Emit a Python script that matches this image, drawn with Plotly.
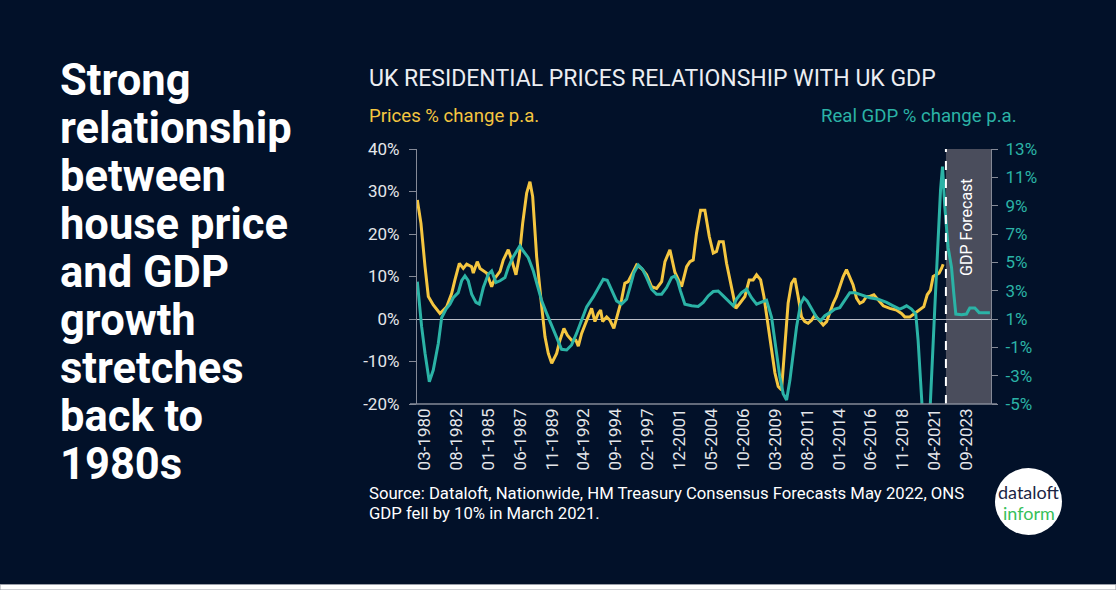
import plotly.graph_objects as go

# ---------------- data ----------------
tick_labels = ["03-1980", "08-1982", "01-1985", "06-1987", "11-1989", "04-1992",
               "09-1994", "02-1997", "12-2001", "05-2004", "10-2006", "03-2009",
               "08-2011", "01-2014", "06-2016", "11-2018", "04-2021", "09-2023"]

# period index along the category axis (29 periods between labels)
price_t = [0.3, 3.6, 7.3, 10.3, 14.8, 20.9, 27, 31.5, 34.5, 38.5, 42.1, 45.2, 49.7, 51.2,
           54.8, 57.3, 63.4, 67.9, 70.9, 75.5, 78.5, 83, 86.1, 90, 93, 96.1, 99.7, 102.7,
           105.2, 108.8, 113.4, 116.4, 119.4, 122.5, 127, 130, 133.6, 136.7, 140.6, 144.5,
           146.7, 149.7, 152.7, 156.7, 158.8, 161.8, 164.8, 167, 168.8, 172.5, 175.5, 179,
           183, 186, 189, 192, 196, 199.7, 204.2, 208.8, 213.3, 217.9, 222.5, 225.5, 230,
           234.5, 240.6, 245.2, 248.2, 251.2, 254.2, 257.9, 261.8, 265.8, 269.4, 272.4,
           274.8, 278.5, 281.5, 286.1, 290, 293.6, 298.2, 302.1, 305.7, 308.8, 312.5, 315.5,
           318.5, 321.5, 325.5, 328.5, 331.5, 334.5, 337.5, 340.6, 343.6, 346.6, 349.7,
           352.7, 355.7, 358.8, 361.8, 365.8, 369.4, 372.5, 375.5, 378.5, 381.5, 384.5,
           387.6, 390.6, 393.6, 396.6, 399.7, 402.7, 405.7, 408.8, 411.8, 415.5, 419.4,
           424, 430, 436, 440.6, 443.6, 448.2, 452.7, 457.3, 460.9, 464, 467, 469.4, 472.5,
           474.8, 477, 478.5]
price_v = [28.0, 22.5, 12.3, 5.3, 3.3, 1.3, 2.9, 6.0, 9.2, 13.1, 11.9, 12.9, 12.3, 10.8,
           13.5, 11.9, 10.8, 7.6, 9.6, 11.2, 13.9, 16.3, 13.9, 10.4, 14.7, 22.5, 29.6, 32.3,
           28.8, 14.7, 2.9, -4.2, -8.1, -10.4, -8.1, -5.0, -2.2, -3.8, -5.0, -5.0,
           -6.4, -3.4, -1.4, 0.9, 2.5, -0.6, 1.3, 2.1, -0.6, 0.5, -0.3, -2.2,
           1.3, 4.5, 8.4, 8.8, 10.8, 12.7, 11.9, 10.4, 7.6, 7.2, 8.8, 13.5, 16.3,
           11.0, 7.6, 12.3, 13.5, 13.9, 20.2, 25.6, 25.6, 19.4, 15.5, 15.9,
           18.2, 18.2, 13.1, 7.6, 2.5, 3.7, 5.3, 9.2, 9.2, 10.4, 9.2, 5.3,
           -0.3, -6.5, -12.7, -15.9, -16.7, -6.5, 3.7, 8.4, 9.6, 5.3, 0.5,
           -0.6, -1.0, -0.3, 0.9, -0.3, -1.4, -0.6, 1.7, 3.7, 5.3, 7.6,
           10.0, 11.6, 10.0, 8.0, 4.9, 3.7, 4.1, 5.3, 5.3, 5.7, 4.5,
           3.1, 2.5, 2.1, 1.3, 0.5, 0.5, 1.3, 2.1, 2.9, 5.7, 6.8, 10.0, 10.4,
           10.8, 11.9, 12.9]

gdp_t = [0.3, 4.2, 7.3, 11.2, 14.8, 19.4, 22.4, 26.4, 30, 33, 37.5, 40.6, 43.6, 46.6, 49.7,
         53.6, 56.6, 60.3, 64.8, 67.9, 71.8, 75.5, 80, 83, 87, 90.6, 93.6, 96.6, 101.2,
         105.8, 110.3, 113.4, 117.9, 122.5, 127, 131.5, 136.1, 140.6, 145.2, 149.7, 154.3,
         160.3, 164.8, 169.4, 173, 177, 181.5, 186, 190.6, 193.6, 197.3, 201.2, 205.2,
         208.8, 213.3, 217.9, 222.5, 227, 231.5, 234.5, 237, 239.5, 243.6, 249.7, 255.7,
         260.3, 264.8, 269.4, 273.9, 278.5, 283, 287.6, 290.6, 295.2, 299.7, 304.2, 308.8,
         313.3, 317.9, 322.5, 326.4, 330, 333, 336.1, 339.1, 342.1, 345.2, 348.8, 351.8,
         354.8, 358.8, 363.4, 367, 370.9, 375.5, 380, 384.5, 389, 393.6, 398.2, 404.2,
         411.8, 419.4, 427, 433, 439, 442.1, 445.2, 449.7, 453.6, 455.7, 457.3, 463.5,
         470.9, 474, 476.1, 477.9, 480, 483, 486.1, 488.2, 490, 495.2, 499.7, 502.7,
         507.3, 511.2, 521]
gdp_v = [3.63, 0.46, -1.42, -3.43, -2.60, -0.71, 1.09, 1.7, 2.05, 2.5, 2.86, 3.7, 4.04, 3.7,
         2.75, 2.17, 2.05, 3.22, 4.16, 4.39, 3.57, 3.7, 3.92, 4.63, 5.33, 5.8, 6.16, 5.8,
         5.33, 4.39, 3.22, 2.28, 1.4, 0.58, -0.25, -1.14, -1.19, -0.83, 0.0, 0.93, 1.86,
         2.56, 3.22, 3.81, 3.74, 3.0, 2.28, 2.05, 2.4, 3.22, 4.27, 4.81, 4.51,
         3.92, 3.1, 2.75, 2.75, 3.22, 3.92, 4.04, 3.7, 3.0, 2.05, 1.93, 1.88,
         2.17, 2.63, 2.94, 2.98, 2.63, 2.28, 1.93, 2.4, 2.86, 3.1, 2.5, 2.05,
         2.17, 2.33, 1.1, -1.0, -3.1, -4.27, -4.72, -3.33, -1.42, 0.46, 2.05, 2.5,
         2.28, 1.7, 1.1, 0.88, 1.23, 1.45, 1.7, 1.8, 2.28, 2.86, 2.86, 2.7,
         2.5, 2.4, 2.17, 1.93, 1.7, 1.8, 1.93, 1.7, 1.35, -0.5, -2.88, -10.5,
         1.8, 6.5, 10.1, 11.75, 8.9, 6.05, 4.64, 2.77, 1.35, 1.3, 1.35, 1.77,
         1.77, 1.45, 1.45]

forecast_start = 481      # period index where the GDP forecast begins
x_end = 522               # last period shown on the axis

left_ticks = [-20, -10, 0, 10, 20, 30, 40]
right_ticks = [-5, -3, -1, 1, 3, 5, 7, 9, 11, 13]

headline = ["Strong", "relationship", "between", "house price", "and GDP",
            "growth", "stretches", "back to", "1980s"]

# ---------------- styling ----------------
W, H = 1116, 590
L, R, T, B = 417, 991, 149, 404  # plot area in page pixels
BG = "#021129"
YELLOW = "#f5c640"
TEAL = "#2bb3a6"
AXIS = "#858a97"
FONT = "Roboto"


def px(x):
    return (x - L) / (R - L)


def py(y):
    return (B - y) / (B - T)


tick_pos = [6.8 + 29 * k for k in range(len(tick_labels))]

fig = go.Figure()
fig.add_trace(go.Scatter(x=price_t, y=price_v, mode="lines", name="Prices",
                         line=dict(color=YELLOW, width=3), hoverinfo="skip"))
fig.add_trace(go.Scatter(x=gdp_t, y=gdp_v, mode="lines", name="GDP", yaxis="y2",
                         line=dict(color=TEAL, width=3), hoverinfo="skip"))

shapes = [
    # forecast band
    dict(type="rect", xref="x", yref="paper", x0=forecast_start, x1=x_end, y0=0, y1=1,
         fillcolor="#4a4d5c", line=dict(width=0), layer="below"),
    # dashed divider
    dict(type="line", xref="x", yref="paper", x0=forecast_start, x1=forecast_start,
         y0=0, y1=1, line=dict(color="white", width=2, dash="dash"), layer="above"),
    # bottom axis line
    dict(type="line", xref="paper", yref="paper", x0=px(410), x1=px(997), y0=0, y1=0,
         line=dict(color=AXIS, width=1.3)),
    # logo circle
    dict(type="circle", xref="paper", yref="paper", x0=px(995), x1=px(1062),
         y0=py(535), y1=py(468), fillcolor="white", line=dict(width=0)),
    # white strip at the bottom of the image
    dict(type="rect", xref="paper", yref="paper", x0=px(0), x1=px(W), y0=py(590), y1=py(584.5),
         fillcolor="white", line=dict(color="#9a9ea8", width=1)),
]

ann = []
for k, line in enumerate(headline):
    ann.append(dict(text=line, xref="paper", yref="paper", x=px(58), y=py(80 + 48 * k),
                    xanchor="left", yanchor="middle", showarrow=False,
                    font=dict(family=FONT, size=43.5, color="white", weight="bold")))

ann += [
    dict(text="UK RESIDENTIAL PRICES RELATIONSHIP WITH UK GDP", x=px(367), y=py(78),
         xanchor="left", yanchor="middle",
         font=dict(family=FONT, size=23, color="#eceef2")),
    dict(text="Prices % change p.a.", x=px(367), y=py(116), xanchor="left", yanchor="middle",
         font=dict(family=FONT, size=18.6, color=YELLOW)),
    dict(text="Real GDP % change p.a.", x=px(1019), y=py(116), xanchor="right",
         yanchor="middle", font=dict(family=FONT, size=18.6, color=TEAL)),
    dict(text="GDP Forecast", x=px(966), y=py(227), xanchor="center", yanchor="middle",
         textangle=-90, font=dict(family=FONT, size=16, color="white")),
    dict(text="Source: Dataloft, Nationwide, HM Treasury Consensus Forecasts May 2022, ONS",
         x=px(367), y=py(493), xanchor="left", yanchor="middle",
         font=dict(family=FONT, size=16.7, color="white")),
    dict(text="GDP fell by 10% in March 2021.", x=px(367), y=py(513), xanchor="left",
         yanchor="middle", font=dict(family=FONT, size=16.7, color="white")),
    dict(text="dataloft", x=px(1029), y=py(492), xanchor="center", yanchor="middle",
         font=dict(family="Lato", size=18, color="#1b2544")),
    dict(text="inform", x=px(1029), y=py(513), xanchor="center", yanchor="middle",
         font=dict(family="Lato", size=18, color="#37c05a")),
]
for a in ann:
    a.setdefault("xref", "paper")
    a.setdefault("yref", "paper")
    a["showarrow"] = False

fig.update_layout(
    width=W, height=H,
    margin=dict(l=L, r=W - R, t=T, b=H - B, pad=0),
    paper_bgcolor=BG, plot_bgcolor=BG,
    showlegend=False, hovermode=False,
    font=dict(family=FONT, color="#e4e4e4"),
    xaxis=dict(range=[0, x_end], tickmode="array", tickvals=tick_pos, ticktext=tick_labels,
               tickangle=-90, ticks="", showline=False, showgrid=False, zeroline=False,
               tickfont=dict(family=FONT, size=17, color="#e4e6ea"), fixedrange=True),
    yaxis=dict(range=[-20, 40], tickmode="array", tickvals=left_ticks,
               ticktext=[f"{v}%" for v in left_ticks], ticks="outside", ticklen=7,
               tickcolor=AXIS, showline=True, linecolor=AXIS, linewidth=1.3,
               showgrid=False, zeroline=True, zerolinecolor="#b9bdc7", zerolinewidth=1,
               ticklabelstandoff=6,
               tickfont=dict(family=FONT, size=17, color="#e4e6ea"), fixedrange=True),
    yaxis2=dict(range=[-5, 13], overlaying="y", side="right", tickmode="array",
                tickvals=right_ticks, ticktext=[f"{v}%" for v in right_ticks],
                ticks="outside", ticklen=6, tickcolor=AXIS, showline=True, linecolor=AXIS,
                linewidth=1.3, showgrid=False, zeroline=False, ticklabelstandoff=4,
                tickfont=dict(family=FONT, size=17, color=TEAL), fixedrange=True),
    shapes=shapes,
    annotations=ann,
)

fig.write_html("out.html", config={"displayModeBar": False},
               post_script="document.body.style.margin='0px';")
